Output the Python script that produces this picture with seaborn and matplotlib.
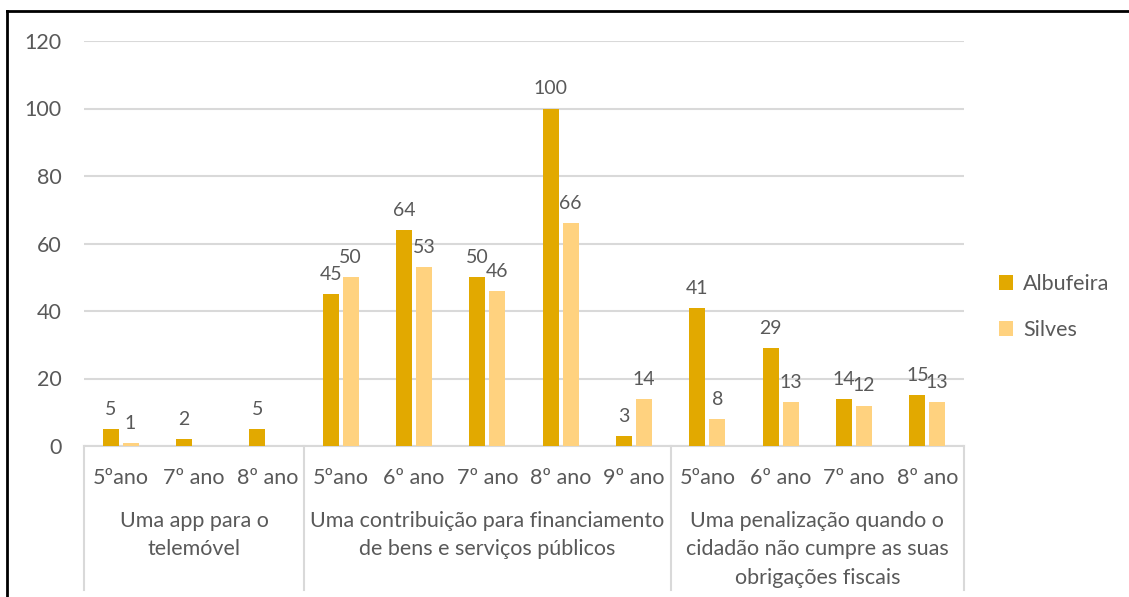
import pandas as pd
import numpy as np
import matplotlib.pyplot as plt
import seaborn as sns
from matplotlib.lines import Line2D

# dados
grupos = [
    'Uma app para o\ntelemóvel',
    'Uma contribuição para financiamento\nde bens e serviços públicos',
    'Uma penalização quando o\ncidadão não cumpre as suas\nobrigações fiscais',
]
anos_grupo = [
    ['5ºano', '7º ano', '8º ano'],
    ['5ºano', '6º ano', '7º ano', '8º ano', '9º ano'],
    ['5ºano', '6º ano', '7º ano', '8º ano'],
]
albufeira = [5, 2, 5, 45, 64, 50, 100, 3, 41, 29, 14, 15]
silves = [1, np.nan, np.nan, 50, 53, 46, 66, 14, 8, 13, 12, 13]
series = ['Albufeira', 'Silves']
cores = {'Albufeira': '#E2A900', 'Silves': '#FFD27F'}

chaves, anos = [], []
for g, lista in enumerate(anos_grupo):
    for a in lista:
        chaves.append(f'{g}|{a}')
        anos.append(a)

df = pd.DataFrame({
    'cat': chaves * 2,
    'serie': ['Albufeira'] * len(chaves) + ['Silves'] * len(chaves),
    'valor': albufeira + silves,
}).dropna()

cinza = '#595959'
fs = 15.5
plt.rcParams['font.family'] = ['Lato', 'DejaVu Sans']

fig = plt.figure(figsize=(11.29, 5.97), dpi=100)
W, H = 1129, 597
ax = fig.add_axes([84 / W, 1 - 446 / H, 880 / W, 405 / H])

sns.barplot(data=df, x='cat', y='valor', hue='serie', order=chaves,
            hue_order=series, palette=cores, width=0.54, gap=0.19,
            errorbar=None, ax=ax, zorder=3, saturation=1)

for cont in ax.containers:
    ax.bar_label(cont, fmt='%g', padding=8, fontsize=14, color=cinza)

ax.set_xlim(-0.5, len(chaves) - 0.5)
ax.set_ylim(0, 120)
ax.set_yticks(range(0, 121, 20))
ax.yaxis.grid(True, color='#D9D9D9', lw=1.5, zorder=0)
ax.set_axisbelow(True)
for s in ['top', 'right', 'left']:
    ax.spines[s].set_visible(False)
ax.spines['bottom'].set_color('#D9D9D9')
ax.spines['bottom'].set_linewidth(1.5)
ax.tick_params(axis='both', length=0, labelsize=fs, colors=cinza)
ax.tick_params(axis='y', pad=16)
ax.tick_params(axis='x', pad=16)
ax.set_xticks(range(len(chaves)))
ax.set_xticklabels(anos)
ax.set_xlabel('')
ax.set_ylabel('')

# rótulos dos grupos e divisórias
trans = ax.get_xaxis_transform()
fundo = -(590 - 446) / 405
inicio = 0
ax.plot([-0.5, -0.5], [0, fundo], color='#D9D9D9', lw=1.5, transform=trans, clip_on=False)
for g, lista in enumerate(anos_grupo):
    fim = inicio + len(lista)
    ax.plot([fim - 0.5, fim - 0.5], [0, fundo], color='#D9D9D9', lw=1.5,
            transform=trans, clip_on=False)
    ax.text((inicio + fim - 1) / 2, -(511 - 446) / 405, grupos[g], transform=trans,
            ha='center', va='top', fontsize=fs, color=cinza, linespacing=1.52)
    inicio = fim

leg = ax.legend(loc='center left', bbox_to_anchor=(980 / W, 1 - 307 / H),
                bbox_transform=fig.transFigure, frameon=False, fontsize=fs,
                handlelength=0.65, handleheight=0.65, handletextpad=0.45,
                labelspacing=1.2, labelcolor=cinza)

# moldura
fig.add_artist(Line2D([7 / W, 7 / W], [0, 1 - 11 / H], color='black', lw=2))
fig.add_artist(Line2D([7 / W, 1], [1 - 11 / H, 1 - 11 / H], color='black', lw=2))

fig.savefig('out.png', dpi=100)
